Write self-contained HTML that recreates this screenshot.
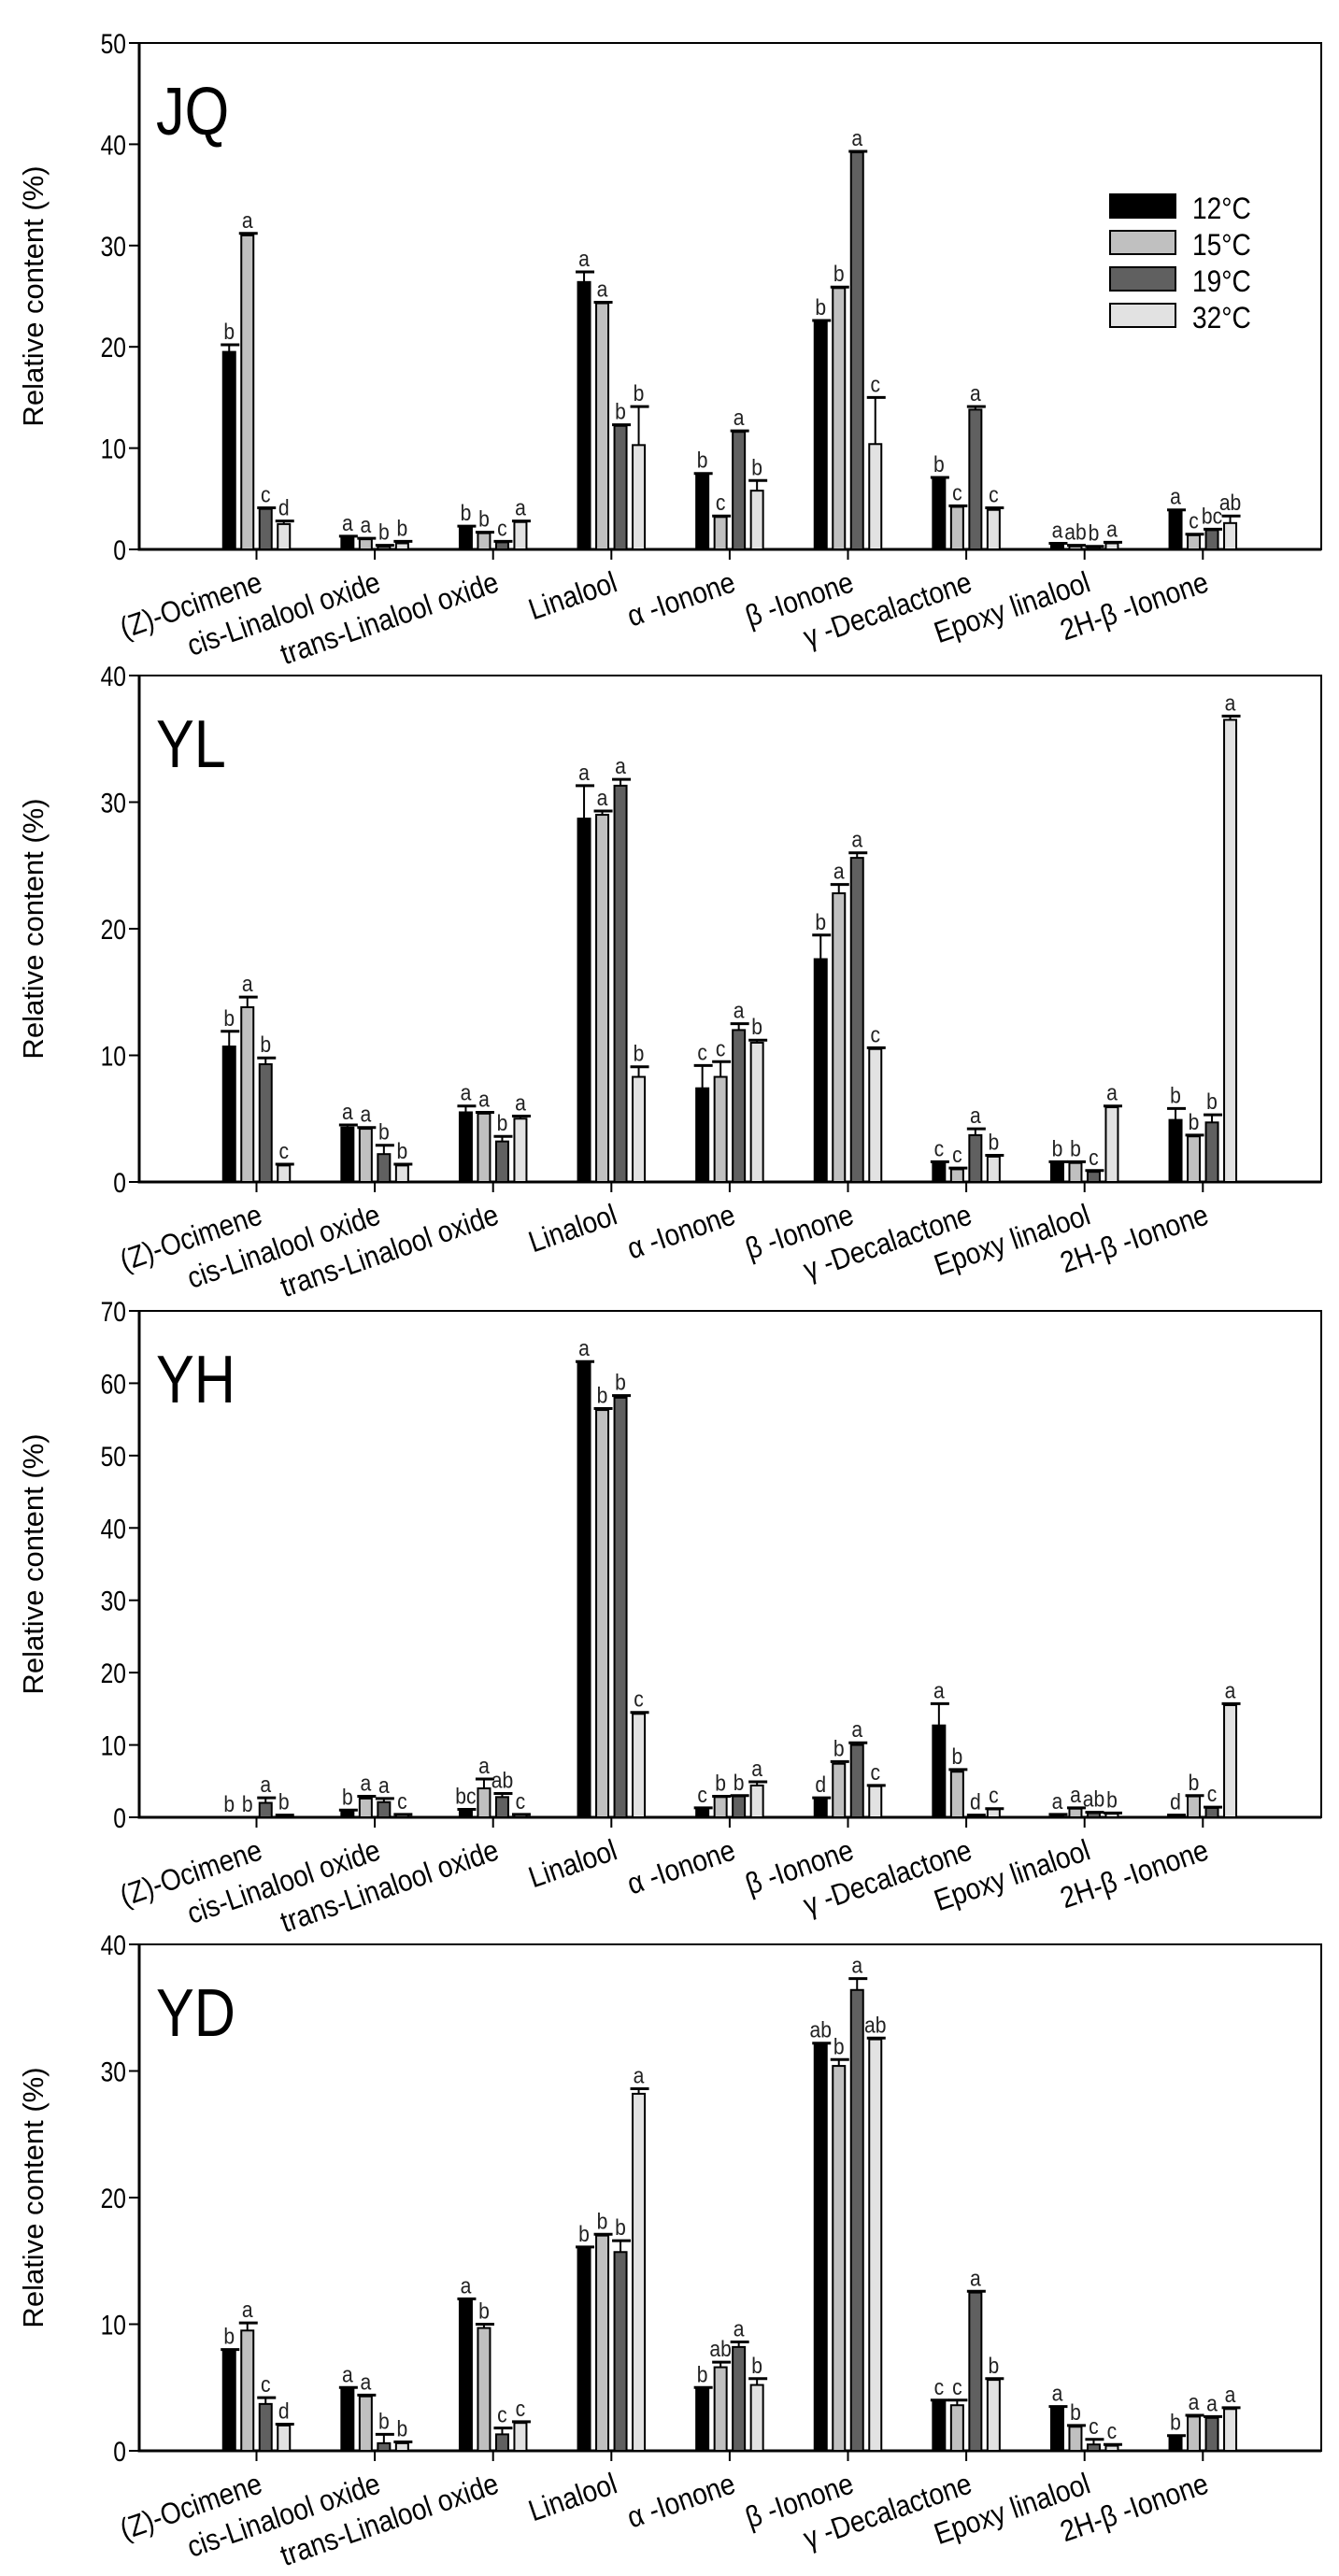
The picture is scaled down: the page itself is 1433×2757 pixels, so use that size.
<!DOCTYPE html>
<html><head><meta charset="utf-8"><style>
html,body{margin:0;padding:0;background:#fff}
svg{display:block}
text{font-family:"Liberation Sans",Arial,sans-serif}
</style></head><body>
<svg id="chart" width="1433" height="2757" viewBox="0 0 1433 2757" xmlns="http://www.w3.org/2000/svg"></svg>
<script>
const categories = ["(Z)-Ocimene","cis-Linalool oxide","trans-Linalool oxide","Linalool","α -Ionone","β -Ionone","γ -Decalactone","Epoxy linalool","2H-β -Ionone"];
const seriesNames = ["12°C","15°C","19°C","32°C"];
const panelNames = ["JQ","YL","YH","YD"];
const yMaxes = [50,40,70,40];
// JQ
const jq12 = [19.5,1.2,2.2,26.4,7.4,22.5,6.9,0.5,3.8];
const jq15 = [31.0,1.0,1.6,24.3,3.2,25.8,4.2,0.3,1.4];
const jq19 = [4.0,0.3,0.7,12.2,11.6,39.2,13.8,0.2,1.9];
const jq32 = [2.5,0.6,2.7,10.3,5.8,10.4,3.9,0.6,2.6];
const jqErr12 = [0.7,0.1,0.1,1.0,0.1,0.1,0.2,0.1,0.1];
const jqErr15 = [0.2,0.1,0.1,0.1,0.1,0.1,0.1,0.1,0.1];
const jqErr19 = [0.1,0.1,0.1,0.1,0.1,0.1,0.3,0.1,0.1];
const jqErr32 = [0.3,0.2,0.1,3.8,1.0,4.6,0.2,0.1,0.7];
const jqLet12 = ["b","a","b","a","b","b","b","a","a"];
const jqLet15 = ["a","a","b","a","c","b","c","ab","c"];
const jqLet19 = ["c","b","c","b","a","a","a","b","bc"];
const jqLet32 = ["d","b","a","b","b","c","c","a","ab"];
// YL
const yl12 = [10.7,4.3,5.5,28.7,7.4,17.6,1.5,1.5,4.9];
const yl15 = [13.8,4.2,5.4,29.0,8.3,22.8,1.0,1.5,3.6];
const yl19 = [9.3,2.2,3.2,31.3,12.0,25.6,3.7,0.8,4.7];
const yl32 = [1.3,1.3,5.0,8.3,11.0,10.5,2.0,5.9,36.5];
const ylErr12 = [1.2,0.2,0.5,2.6,1.8,1.9,0.1,0.1,0.9];
const ylErr15 = [0.8,0.1,0.1,0.3,1.2,0.7,0.1,0.1,0.1];
const ylErr19 = [0.5,0.7,0.4,0.5,0.5,0.4,0.5,0.1,0.6];
const ylErr32 = [0.1,0.1,0.2,0.8,0.2,0.1,0.1,0.1,0.3];
const ylLet12 = ["b","a","a","a","c","b","c","b","b"];
const ylLet15 = ["a","a","a","a","c","a","c","b","b"];
const ylLet19 = ["b","b","b","a","a","a","a","c","b"];
const ylLet32 = ["c","b","a","b","b","c","b","a","a"];
// YH
const yh12 = [0.0,0.8,1.0,62.8,1.2,2.6,12.7,0.3,0.2];
const yh15 = [0.0,2.6,4.0,56.3,2.8,7.4,6.3,1.2,2.9];
const yh19 = [2.0,2.1,2.8,58.0,2.9,10.0,0.2,0.6,1.3];
const yh32 = [0.2,0.3,0.3,14.3,4.4,4.3,1.1,0.5,15.5];
const yhErr12 = [0.0,0.2,0.1,0.2,0.1,0.1,3.0,0.1,0.1];
const yhErr15 = [0.0,0.3,1.3,0.2,0.1,0.3,0.3,0.1,0.1];
const yhErr19 = [0.7,0.5,0.5,0.3,0.1,0.3,0.1,0.1,0.1];
const yhErr32 = [0.1,0.1,0.1,0.2,0.5,0.1,0.1,0.1,0.2];
const yhLet12 = ["b","b","bc","a","c","d","a","a","d"];
const yhLet15 = ["b","a","a","b","b","b","b","a","b"];
const yhLet19 = ["a","a","ab","b","b","a","d","ab","c"];
const yhLet32 = ["b","c","c","c","a","c","c","b","a"];
// YD
const yd12 = [7.9,4.9,11.9,16.0,4.9,32.1,3.9,3.4,1.1];
const yd15 = [9.5,4.3,9.7,17.0,6.6,30.4,3.6,1.9,2.7];
const yd19 = [3.7,0.6,1.3,15.7,8.2,36.4,12.5,0.5,2.6];
const yd32 = [2.0,0.6,2.2,28.2,5.2,32.5,5.6,0.4,3.3];
const ydErr12 = [0.1,0.1,0.1,0.1,0.1,0.1,0.1,0.1,0.1];
const ydErr15 = [0.6,0.1,0.3,0.1,0.4,0.5,0.4,0.1,0.1];
const ydErr19 = [0.5,0.7,0.5,0.9,0.4,0.9,0.1,0.4,0.1];
const ydErr32 = [0.1,0.1,0.1,0.4,0.5,0.1,0.1,0.1,0.1];
const ydLet12 = ["b","a","a","b","b","ab","c","a","b"];
const ydLet15 = ["a","a","b","b","ab","b","c","b","a"];
const ydLet19 = ["c","b","c","b","a","a","a","c","a"];
const ydLet32 = ["d","b","c","a","b","ab","b","c","a"];

const panelValues = [[jq12,jq15,jq19,jq32],[yl12,yl15,yl19,yl32],[yh12,yh15,yh19,yh32],[yd12,yd15,yd19,yd32]];
const panelErrors = [[jqErr12,jqErr15,jqErr19,jqErr32],[ylErr12,ylErr15,ylErr19,ylErr32],[yhErr12,yhErr15,yhErr19,yhErr32],[ydErr12,ydErr15,ydErr19,ydErr32]];
const panelLetters = [[jqLet12,jqLet15,jqLet19,jqLet32],[ylLet12,ylLet15,ylLet19,ylLet32],[yhLet12,yhLet15,yhLet19,yhLet32],[ydLet12,ydLet15,ydLet19,ydLet32]];

const colors = ["#000000","#c0c0c0","#606060","#e2e2e2"];
const panelTops = [46,723,1403,2081];
const plotH = 542, left = 149, right = 1414;
const tick0 = 274.5, pitch = 126.6, barPitch = 19.5, barW = 15;
const NS = "http://www.w3.org/2000/svg";
const svg = document.getElementById("chart");

function mk(tag, attrs, parent, txt){
  const e = document.createElementNS(NS, tag);
  for (const k in attrs) e.setAttribute(k, attrs[k]);
  if (txt !== undefined) e.textContent = txt;
  (parent||svg).appendChild(e);
  return e;
}

panelNames.forEach((pname, p) => {
  const top = panelTops[p], zero = top + plotH, ymax = yMaxes[p];
  const y = v => zero - v / ymax * plotH;
  const xc = i => tick0 + i * pitch;
  const g = mk("g", {});
  
  

  const fr = mk("rect", {x:left, y:top, width:right-left, height:plotH, fill:"none", stroke:"#000", "stroke-width":2}, g);
  
  
  mk("line", {x1:left, y1:top, x2:left, y2:zero+1.5, stroke:"#000", "stroke-width":3}, g);
  mk("line", {x1:left, y1:zero, x2:right, y2:zero, stroke:"#000", "stroke-width":3}, g);

  for (let v = 0; v <= ymax; v += 10) {
    mk("line", {x1:left-11, y1:y(v), x2:left, y2:y(v), stroke:"#000", "stroke-width":2}, g);
    const t = mk("text", {x:0, y:0, "font-size":30, "text-anchor":"end", transform:`translate(${left-14},${y(v)+11}) scale(0.82,1)`}, g, String(v));
    
    
  }
  const yt = mk("text", {x:0, y:0, "font-size":31, "text-anchor":"middle", transform:`translate(46,${top+plotH/2}) rotate(-90)`}, g, "Relative content (%)");
  
  

  const pl = mk("text", {x:0, y:0, "font-size":72, transform:`translate(167,${top+98}) scale(0.85,1)`}, g, pname);
  
  

  categories.forEach((c, i) => {
    mk("line", {x1:xc(i), y1:zero, x2:xc(i), y2:zero+11, stroke:"#000", "stroke-width":2}, g);
    const ct = mk("text", {x:0, y:0, "font-size":32, "text-anchor":"end", transform:`translate(${xc(i)+8},${zero+44}) rotate(-19) scale(0.88,1)`}, g, c);
    
    
  });

  for (let s = 0; s < 4; s++) {
    const vals = panelValues[p][s], errs = panelErrors[p][s], lets = panelLetters[p][s];
    vals.forEach((v, i) => {
      const cx = xc(i) + (s - 1.5) * barPitch;
      const yt2 = y(v);
      if (v > 0) {
        const b = mk("rect", {x:cx-barW/2+1, y:yt2, width:barW-2, height:zero-yt2, fill:colors[s], stroke:"#000", "stroke-width":2}, g);
        
        
      }
      const ye = y(v + errs[i]);
      if (v > 0 || errs[i] > 0) {
        mk("line", {x1:cx, y1:yt2, x2:cx, y2:ye, stroke:"#000", "stroke-width":2}, g);
        mk("line", {x1:cx-9, y1:ye, x2:cx+11, y2:ye, stroke:"#000", "stroke-width":3}, g);
      }
      const lt = mk("text", {x:0, y:0, "font-size":24, "text-anchor":"middle", fill:"#222", transform:`translate(${cx},${ye-6}) scale(0.88,1)`}, g, lets[i]);
      
      
    });
  }

  if (p === 0) {
    seriesNames.forEach((n, s) => {
      const ly = top + 162 + s * 39;
      const r = mk("rect", {x:1188, y:ly, width:70, height:25, fill:colors[s], stroke:"#000", "stroke-width":2}, g);
      
      
      const lt = mk("text", {x:0, y:0, "font-size":32, transform:`translate(1276,${ly+26}) scale(0.88,1)`}, g, n);
      
      
    });
  }
});
</script>
</body></html>
